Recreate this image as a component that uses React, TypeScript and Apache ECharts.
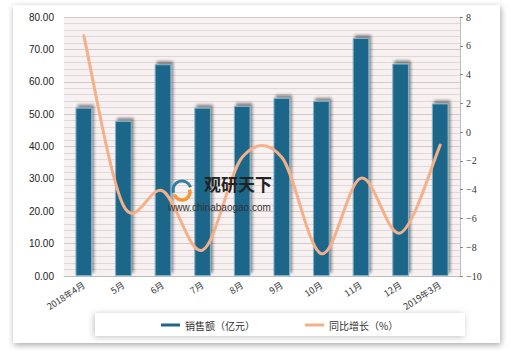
import React, { useEffect, useRef } from "react";
import * as echarts from "echarts";

const categories = ["2018年4月", "5月", "6月", "7月", "8月", "9月", "10月", "11月", "12月", "2019年3月"];
const salesValues = [52.0, 47.9, 65.4, 52.0, 52.5, 55.0, 54.1, 73.5, 65.6, 53.3];
const growthValues = [6.7, -5.1, -4.1, -8.2, -1.75, -1.75, -8.45, -3.2, -7.0, -0.9];
const leftTicks = { min: 0, max: 80, interval: 10 };
const rightTicks = { min: -10, max: 8, interval: 2 };
const seriesNames = ["销售额（亿元）", "同比增长（%）"];

const LINE_COLOR = "#f5b08a";

function renderSmoothLine(params: any, api: any) {
  if (params.dataIndex !== 0) return { type: "group", children: [] };
  const pts = growthValues.map((v, i) => api.coord([i, v]));
  const t = 1 / 6;
  let d = `M${pts[0][0]},${pts[0][1]}`;
  for (let i = 0; i < pts.length - 1; i++) {
    const p0 = pts[i - 1] || pts[i];
    const p1 = pts[i];
    const p2 = pts[i + 1];
    const p3 = pts[i + 2] || pts[i + 1];
    const c1x = p1[0] + (p2[0] - p0[0]) * t;
    const c1y = p1[1] + (p2[1] - p0[1]) * t;
    const c2x = p2[0] - (p3[0] - p1[0]) * t;
    const c2y = p2[1] - (p3[1] - p1[1]) * t;
    d += ` C${c1x},${c1y} ${c2x},${c2y} ${p2[0]},${p2[1]}`;
  }
  return {
    type: "path",
    shape: { pathData: d },
    style: { fill: "none", stroke: LINE_COLOR, lineWidth: 3, lineJoin: "round", lineCap: "round" },
  };
}

export default function App() {
  const ref = useRef<HTMLDivElement>(null);
  useEffect(() => {
    if (!ref.current) return;
    const chart = echarts.init(ref.current, null, { renderer: "svg" });
    chart.setOption({
      animation: false,
      backgroundColor: "#ffffff",
      graphic: [
        {
          type: "rect",
          z: -10,
          shape: { x: 13, y: 5, width: 487, height: 338 },
          style: { fill: "#ffffff", shadowBlur: 6, shadowColor: "rgba(0,0,0,0.35)", shadowOffsetX: 1, shadowOffsetY: 2 },
        },
        {
          type: "rect",
          z: -5,
          shape: { x: 95, y: 313, width: 370, height: 23 },
          style: { fill: "#ffffff", shadowBlur: 6, shadowColor: "rgba(0,0,0,0.25)", shadowOffsetX: -1, shadowOffsetY: 1 },
        },
        { type: "arc", z: 100, shape: { cx: 182, cy: 190, r: 9, startAngle: Math.PI * 0.9, endAngle: Math.PI * 1.9 }, style: { stroke: "#2e7fa8", lineWidth: 3, fill: "none" } },
        { type: "arc", z: 100, shape: { cx: 182, cy: 192, r: 8, startAngle: Math.PI * -0.1, endAngle: Math.PI * 0.9 }, style: { stroke: "#f29a3a", lineWidth: 3.5, fill: "none" } },
        { type: "text", z: 100, x: 204, y: 175, style: { text: "观研天下", font: "bold 17px 'Noto Sans CJK SC'", fill: "#222222" } },
        { type: "text", z: 100, x: 168, y: 202, style: { text: "www.chinabaogao.com", font: "10px 'Liberation Sans', Arial", fill: "#333333" } },
      ],
      grid: { left: 64, right: 60, top: 17, bottom: 75, show: true, backgroundColor: "#f8f1f1", borderWidth: 0 },
      legend: {
        bottom: 16,
        left: 156,
        itemGap: 50,
        itemWidth: 19,
        itemHeight: 3,
        textStyle: { fontSize: 10, color: "#333333", fontFamily: "'Noto Sans CJK SC'" },
        data: [
          { name: seriesNames[0], icon: "rect", itemStyle: { color: "#1c6689", borderWidth: 0 } },
          { name: seriesNames[1], icon: "rect", itemStyle: { color: LINE_COLOR } },
        ],
      },
      xAxis: {
        type: "category",
        data: categories,
        axisLine: { show: true, lineStyle: { color: "#bdbdbd" } },
        axisTick: { show: false },
        axisLabel: { rotate: 33, fontSize: 9, color: "#333333", fontFamily: "'Noto Sans CJK SC'", interval: 0, margin: 8 },
      },
      yAxis: [
        {
          type: "value",
          min: leftTicks.min,
          max: leftTicks.max,
          interval: leftTicks.interval,
          axisLine: { show: false },
          axisTick: { show: false },
          axisLabel: { formatter: (v: number) => v.toFixed(2), fontSize: 10, color: "#222222", fontFamily: "'Liberation Sans', Arial", margin: 10 },
          splitLine: { show: true, lineStyle: { color: "#d2c9c9", width: 1 } },
          minorTick: { show: false, splitNumber: 5 },
          minorSplitLine: { show: true, lineStyle: { color: "#e0d8d8", width: 1 } },
        },
        {
          type: "value",
          min: rightTicks.min,
          max: rightTicks.max,
          interval: rightTicks.interval,
          axisLine: { show: true, lineStyle: { color: "#bdbdbd" } },
          axisTick: { show: true, length: 3, lineStyle: { color: "#888888" } },
          axisLabel: { fontSize: 10, color: "#333333", fontFamily: "'Liberation Serif', 'DejaVu Serif'", margin: 6, formatter: (v: number) => (v < 0 ? "−" + Math.abs(v) : String(v)) },
          splitLine: { show: false },
        },
      ],
      series: [
        {
          name: seriesNames[0],
          type: "bar",
          data: salesValues,
          barWidth: "42%",
          itemStyle: {
            color: "#1c6689",
            borderColor: "#7fb2c9",
            borderWidth: 1,
            shadowBlur: 3,
            shadowColor: "rgba(0,0,0,0.45)",
            shadowOffsetX: 2,
            shadowOffsetY: -3,
          },
        },
        {
          name: seriesNames[1],
          type: "custom",
          yAxisIndex: 1,
          z: 5,
          data: growthValues.map((v, i) => [i, v]),
          encode: { x: 0, y: 1 },
          renderItem: renderSmoothLine,
          itemStyle: { color: LINE_COLOR },
        },
      ],
    });
    return () => chart.dispose();
  }, []);
  return <div ref={ref} style={{ width: 520, height: 351, position: "absolute", left: 0, top: 0 }} />;
}
